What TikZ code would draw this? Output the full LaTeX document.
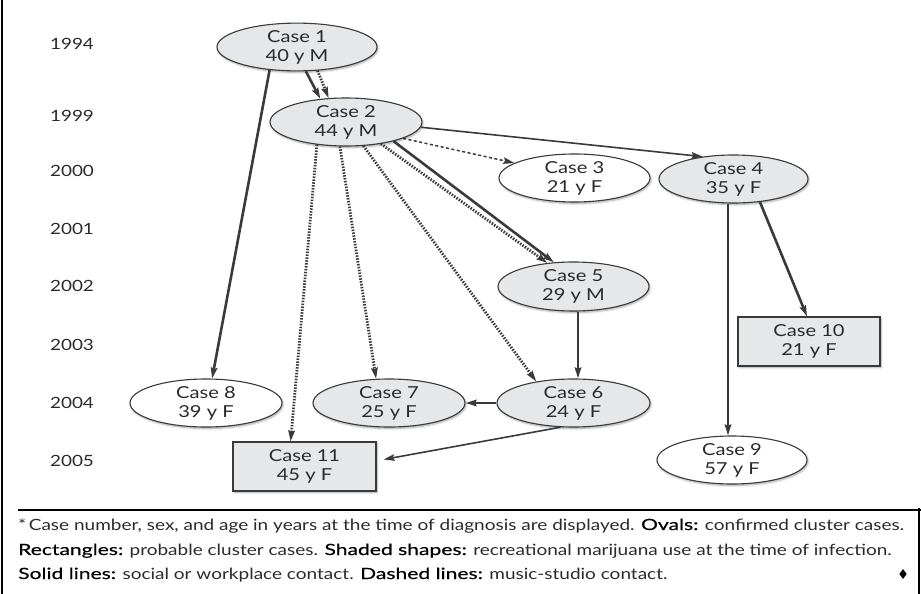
\documentclass[tikz,border=0pt]{standalone}
\usepackage{fontspec}
\setmainfont{Lato}[FakeStretch=1.22]
\newfontfamily\footfont{Lato}[FakeStretch=1.225]
\newfontfamily\medfont{Lato}[FakeStretch=1.36, FakeBold=0.35]
\usetikzlibrary{arrows.meta,shapes.geometric,shadows.blur}
\definecolor{shade}{HTML}{E6E7E9}
\definecolor{ink}{HTML}{3A3A3A}
\definecolor{txt}{HTML}{2A2A2A}
\tikzset{
  casebase/.style={draw=ink, line width=1.1pt, inner sep=0pt, align=center, text=txt,
    font=\fontsize{16.5}{19}\selectfont, blur shadow={shadow blur steps=6, shadow xshift=1pt, shadow yshift=-1.5pt, shadow opacity=35}},
  oval/.style={casebase, ellipse, minimum width=152pt, minimum height=48pt},
  box/.style={casebase, rectangle, minimum width=142pt, minimum height=49pt},
  shaded/.style={fill=shade},
  plain/.style={fill=white},
  tip/.style={-{Stealth[length=11pt,width=6.5pt,inset=1.5pt]}},
  solidthick/.style={tip, draw=ink, line width=2.6pt},
  solidthin/.style={tip, draw=ink, line width=1.6pt},
  dotline/.style={tip, draw=ink, line width=2.8pt, dash pattern=on 1.5pt off 1.4pt},
  dashthin/.style={tip, draw=ink, line width=1.5pt, dash pattern=on 3pt off 2.5pt},
  year/.style={text=txt, font=\fontsize{15.5}{17}\selectfont},
  foot/.style={anchor=base west, inner sep=0pt, text=txt, font=\footfont\fontsize{15.5}{17}\selectfont},
}
\begin{document}
\begin{tikzpicture}[x=1pt,y=-1pt]
\useasboundingbox (0,0) rectangle (921,594);
% frame
\draw[line width=1.8pt, black] (2,0) -- (2,594);
\draw[line width=1.8pt, black] (18,510) -- (921,510);
\draw[line width=1.8pt, black] (919,508) -- (919,594);
% years
\node[year] (y1994) at (72,44) {1994};
\node[year] (y1999) at (72,116) {1999};
\node[year] (y2000) at (72,171) {2000};
\node[year] (y2001) at (72,229) {2001};
\node[year] (y2002) at (72,286) {2002};
\node[year] (y2003) at (72,345) {2003};
\node[year] (y2004) at (72,403) {2004};
\node[year] (y2005) at (72,461) {2005};
% cases
\node[oval, shaded, minimum width=160pt, minimum height=46pt] (c1) at (297,47) {Case 1\\40 y M};
\node[oval, shaded] (c2) at (346,122) {Case 2\\44 y M};
\node[oval, plain, minimum width=151pt] (c3) at (574.5,178) {Case 3\\21 y F};
\node[oval, shaded, minimum width=149pt] (c4) at (733.5,179) {Case 4\\35 y F};
\node[oval, shaded, minimum width=151pt, minimum height=49pt] (c5) at (573.5,286.5) {Case 5\\29 y M};
\node[box, shaded] (c10) at (809,341.5) {Case 10\\21 y F};
\node[oval, plain] (c8) at (206,403) {Case 8\\39 y F};
\node[oval, shaded] (c7) at (389,403) {Case 7\\25 y F};
\node[oval, shaded, minimum width=153pt] (c6) at (573.5,403) {Case 6\\24 y F};
\node[box, shaded, minimum width=143pt] (c11) at (304.5,466.5) {Case 11\\45 y F};
\node[oval, plain, minimum width=150pt] (c9) at (732,460) {Case 9\\57 y F};
% connectors
\draw[solidthick] (c1.220) -- (c8.76);
\draw[solidthick] (c1.290) -- (c2.138);
\draw[dotline] (c1.311) -- (c2.126);
\draw[solidthin] (c2.356) -- (c4.144);
\draw[dashthin] (c2.344) -- (c3.166);
\draw[solidthick] (c2.338) -- (c5.129);
\draw[dotline] (c2.328) -- (c5.138);
\draw[dotline] (c2.218) -- (c11.119);
\draw[dotline] (c2.256) -- (c7.118);
\draw[dotline] (c2.306) -- (c6.150);
\draw[solidthick] ([xshift=4.5pt]c5.south) -- ([xshift=4.5pt]c6.north);
\draw[solidthick] (c6.west) -- (c7.east);
\draw[solidthin] (c6.242) -- ([shift={(7pt,7pt)}]c11.east);
\draw[solidthick] ([xshift=-5.5pt]c4.south) -- ([xshift=-4pt]c9.north);
\draw[solidthick] (c4.319) -- ([xshift=-2pt]c10.north);
% footer
\node[foot] (f1) at (18,530) {*\,Case number, sex, and age in years at the time of diagnosis are displayed. {\medfont\color{black}Ovals:} confirmed cluster cases.};
\node[foot] (f2) at (18,555) {{\medfont\color{black}Rectangles:} probable cluster cases. {\medfont\color{black}Shaded shapes:} recreational marijuana use at the time of infection.};
\node[foot] (f3) at (18,579) {{\medfont\color{black}Solid lines:} social or workplace contact. {\medfont\color{black}Dashed lines:} music-studio contact.};
\node[diamond, fill=black, inner sep=0pt, minimum width=7.5pt, minimum height=10pt] (dia) at (903,574) {};
\end{tikzpicture}
\end{document}
